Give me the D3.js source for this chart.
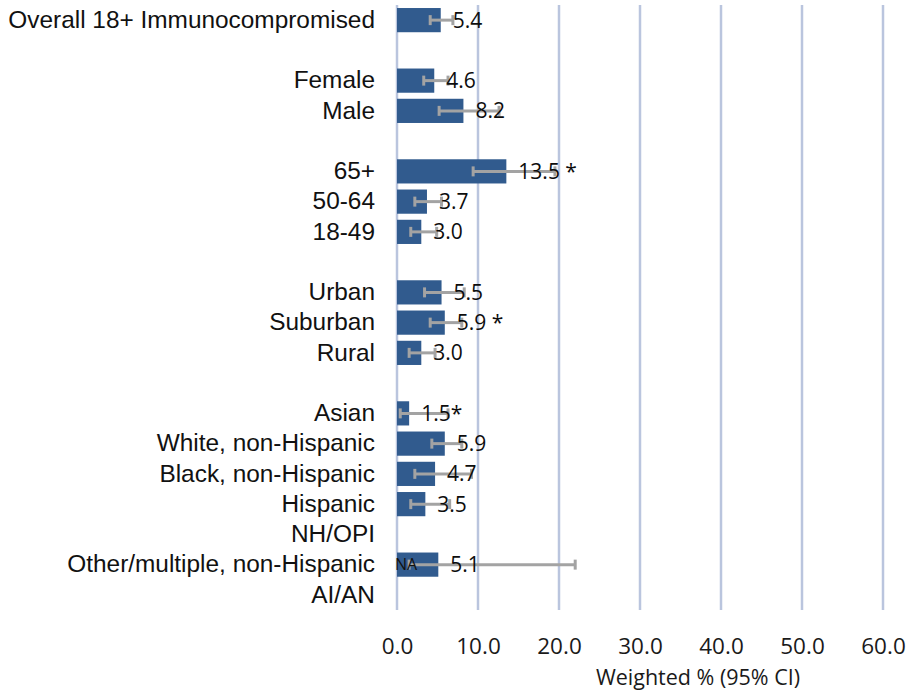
<!DOCTYPE html>
<html><head><meta charset="utf-8">
<script src="https://cdn.jsdelivr.net/npm/d3@7/dist/d3.min.js"></script>
<style>body{margin:0;background:#fff}</style>
</head><body>
<svg id="chart" width="910" height="690"></svg>
<script>
const categories = ["Overall 18+ Immunocompromised","","Female","Male","","65+","50-64","18-49","","Urban","Suburban","Rural","","Asian","White, non-Hispanic","Black, non-Hispanic","Hispanic","NH/OPI","Other/multiple, non-Hispanic","AI/AN"];
const values = [5.4,null,4.6,8.2,null,13.5,3.7,3.0,null,5.5,5.9,3.0,null,1.5,5.9,4.7,3.5,null,5.1,null];
const ciLow  = [4.1,null,3.3,5.2,null,9.4,2.2,1.7,null,3.4,4.1,1.5,null,0.4,4.3,2.2,1.7,null,1.5,null];
const ciHigh = [6.9,null,6.3,12.6,null,19.5,5.5,4.9,null,8.3,8.0,4.7,null,6.3,8.0,9.2,6.5,null,22.0,null];
const flags  = ["",null,"","",null," *","","",null,""," *","",null,"*","","","",null,"",null];
const naLabels = [null,null,null,null,null,null,null,null,null,null,null,null,null,null,null,null,null,null,"NA",null];
const xTicks = [0,10,20,30,40,50,60];
const axisTitle = "Weighted % (95% CI)";

const svg = d3.select("#chart");
const x = d3.scaleLinear().domain([0,60]).range([397,883]);
const y = d3.scaleBand().domain(d3.range(categories.length)).range([5,610]).paddingInner(0.2).paddingOuter(0.1);

// gridlines
svg.append("g").selectAll("line").data(xTicks).join("line")
  .attr("x1",d=>x(d)).attr("x2",d=>x(d)).attr("y1",5).attr("y2",610)
  .attr("stroke","#BAC5DE").attr("stroke-width",2.5);

// x axis tick labels
const xAxis = d3.axisBottom(x).tickValues(xTicks).tickFormat(d3.format(".1f")).tickSize(0).tickPadding(0);
const gx = svg.append("g").attr("transform","translate(0,638)").call(xAxis);
gx.select(".domain").remove();
gx.selectAll("text").attr("font-family","'Open Sans',sans-serif").attr("font-size",22.5).attr("fill","#1a1a1a").attr("dy","0.71em");

// category labels
const yAxis = d3.axisLeft(y).tickFormat(i=>categories[i]).tickSize(0).tickPadding(0);
const gy = svg.append("g").attr("transform","translate(375,0)").call(yAxis);
gy.select(".domain").remove();
gy.selectAll("text").attr("font-family","'Liberation Sans',Arial,sans-serif").attr("font-size",24.4).attr("fill","#111");

const idx = d3.range(categories.length).filter(i=>values[i]!=null);

// bars
svg.append("g").selectAll("rect").data(idx).join("rect")
  .attr("x",x(0)).attr("y",i=>y(i)).attr("width",i=>x(values[i])-x(0)).attr("height",y.bandwidth())
  .attr("fill","#315B8E");

// error bars
const eb = svg.append("g").attr("stroke","#A3A3A3").attr("stroke-width",3);
idx.forEach(i=>{
  const cy = y(i)+y.bandwidth()/2;
  eb.append("line").attr("x1",x(ciLow[i])).attr("x2",x(ciHigh[i])).attr("y1",cy).attr("y2",cy);
  eb.append("line").attr("x1",x(ciLow[i])).attr("x2",x(ciLow[i])).attr("y1",cy-5).attr("y2",cy+5);
  eb.append("line").attr("x1",x(ciHigh[i])).attr("x2",x(ciHigh[i])).attr("y1",cy-5).attr("y2",cy+5);
});

// data labels
svg.append("g").selectAll("text").data(idx).join("text")
  .attr("x",i=>x(values[i])+12).attr("y",i=>y(i)+y.bandwidth()/2).attr("dy","0.36em")
  .attr("font-family","'Open Sans',sans-serif").attr("font-size",21).attr("fill","#0d0d0d")
  .attr("xml:space","preserve").style("white-space","pre")
  .text(i=>d3.format(".1f")(values[i])+flags[i]);

// NA labels
svg.append("g").selectAll("text").data(d3.range(categories.length).filter(i=>naLabels[i])).join("text")
  .attr("x",x(0)-2).attr("y",i=>y(i)+y.bandwidth()/2).attr("dy","0.36em")
  .attr("font-family","'Open Sans',sans-serif").attr("font-size",16).attr("fill","#111")
  .text(i=>naLabels[i]);

// axis title
svg.append("text").attr("x",698).attr("y",685).attr("text-anchor","middle")
  .attr("font-family","'Open Sans',sans-serif").attr("font-size",21.5).attr("fill","#1a1a1a")
  .text(axisTitle);
</script>
</body></html>
